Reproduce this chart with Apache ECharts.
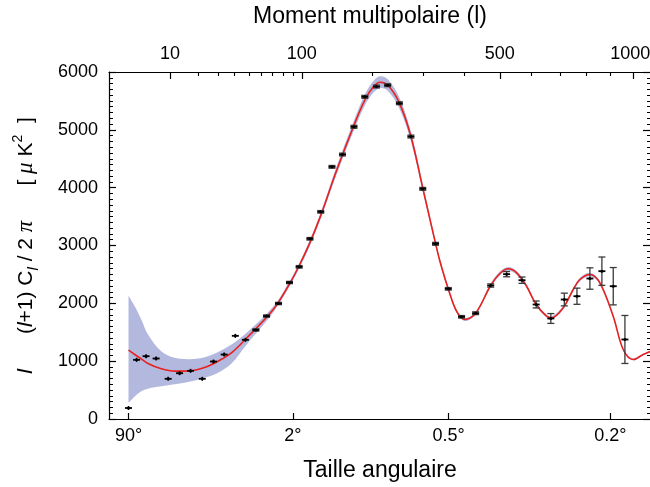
<!DOCTYPE html>
<html><head><meta charset="utf-8">
<script src="https://cdn.jsdelivr.net/npm/echarts@6/dist/echarts.min.js"></script>
<style>html,body{margin:0;padding:0;background:#fff}#c{width:650px;height:487px}</style>
</head><body><div id="c"></div>
<script>
// ---- data ----
const pointL = [2, 3, 4.5, 6.5, 9.5, 13, 17, 22, 27.5, 33.5, 40.5, 47.5, 55.5, 64.5, 75.5, 86.5, 97, 109.5, 123, 138, 153, 170.5, 188, 208, 228.5, 251, 274.5, 300, 329, 359.5, 393, 430.5, 473, 520.5, 569, 616, 667, 716, 764, 815, 864, 912, 963];
const pointV = [190, 1023, 1086, 1046, 695, 792, 833, 695, 994, 1115, 1438, 1369, 1540, 1780, 1997, 2360, 2631, 3116, 3582, 4360, 4573, 5052, 5571, 5749, 5772, 5460, 4884, 3980, 3029, 2251, 1767, 1829, 2308, 2504, 2400, 1980, 1738, 2066, 2123, 2429, 2556, 2296, 1375];
const pointErr = [0, 0, 0, 0, 0, 0, 0, 0, 0, 0, 0, 0, 20, 20, 20, 20, 22, 22, 22, 24, 24, 25, 25, 25, 25, 25, 25, 25, 25, 22, 22, 24, 28, 45, 55, 60, 85, 110, 140, 185, 245, 323, 415];

const curveL = [2, 2.75, 3.7, 4.85, 7.7, 11.4, 16, 20, 24.7, 30, 38, 47.4, 70.5, 86.3, 97, 109.5, 123.3, 144.6, 170.5, 188.3, 202.4, 214.3, 228.5, 250.8, 274.6, 300.4, 329.2, 339.3, 359.4, 380.4, 401.8, 430.6, 472.8, 500, 525.4, 551.8, 584, 616, 652, 670, 712, 749.6, 775.5, 815, 855.6, 911.8, 955.4, 1000, 1046, 1083];
const curveV = [1190, 1115, 1040, 960, 868, 827, 827, 856, 913, 999, 1145, 1375, 1893, 2330, 2650, 3050, 3530, 4300, 5080, 5520, 5740, 5823, 5775, 5470, 4884, 3980, 3029, 2729, 2251, 1860, 1720, 1829, 2308, 2516, 2597, 2528, 2296, 1980, 1777, 1750, 1923, 2239, 2412, 2498, 2355, 1777, 1202, 1029, 1115, 1172];
const bandHi = [2135, 1950, 1720, 1460, 1172, 1058, 1035, 1045, 1086, 1160, 1290, 1470, 1945, 2375, 2695, 3099, 3583, 4370, 5163, 5614, 5840, 5925, 5875, 5565, 4965, 4045, 3075, 2770, 2285, 1888, 1745, 1855, 2340, 2550, 2630, 2560, 2325, 2005, 1800, 1772, 1948, 2267, 2442, 2528, 2383, 1799, 1218, 1043, 1130, 1188];
const bandLo = [280, 390, 481, 525, 565, 600, 640, 680, 730, 800, 960, 1260, 1841, 2285, 2605, 3001, 3477, 4230, 4997, 5426, 5640, 5721, 5675, 5375, 4803, 3915, 2983, 2688, 2217, 1832, 1695, 1803, 2276, 2482, 2564, 2496, 2267, 1955, 1754, 1728, 1898, 2211, 2382, 2468, 2327, 1755, 1186, 1015, 1100, 1156];

const topMajorL = [10, 100, 500, 1000];
const topMinorL = [20, 30, 40, 50, 60, 70, 80, 90, 200, 300, 400, 600, 700, 800, 900];
const bottomAngles = [90, 2, 0.5, 0.2];
const xMinL = 0.5, xMaxL = 1083;
const yMin = 0, yMax = 6000, yStep = 1000;

// ---- scale: x position proportional to l^0.4 ----
const P = 0.4;
const toU = l => Math.pow(l, P);
const fromU = u => Math.pow(u, 1 / P);

const FONT = 'Liberation Sans, Arial, Helvetica, sans-serif';
const black = '#000';
const SMOOTH = 0.35;

// bezier smoothing of screen points (same rule as ECharts line smoothing)
function smoothSegs(pts, s) {
  const n = pts.length, cpL = [], cpR = [];
  for (let i = 0; i < n; i++) {
    const p = pts[i];
    if (i === 0 || i === n - 1) { cpL[i] = p; cpR[i] = p; continue; }
    const a = pts[i - 1], b = pts[i + 1];
    const vx = (b[0] - a[0]) * s, vy = (b[1] - a[1]) * s;
    const d0 = Math.hypot(p[0] - a[0], p[1] - a[1]), d1 = Math.hypot(b[0] - p[0], b[1] - p[1]);
    const r = d0 / (d0 + d1 || 1);
    cpL[i] = [p[0] - vx * r, p[1] - vy * r];
    cpR[i] = [p[0] + vx * (1 - r), p[1] + vy * (1 - r)];
  }
  let d = '';
  for (let i = 0; i < n - 1; i++) {
    d += ' C' + cpR[i][0] + ',' + cpR[i][1] + ' ' + cpL[i + 1][0] + ',' + cpL[i + 1][1] + ' ' + pts[i + 1][0] + ',' + pts[i + 1][1];
  }
  return d;
}

const chart = echarts.init(document.getElementById('c'), null, {renderer: 'canvas'});

const xBase = {type: 'value', min: toU(xMinL), max: toU(xMaxL), splitLine: {show: false}, minorSplitLine: {show: false}};

const option = {
  animation: false,
  backgroundColor: '#fff',
  grid: {left: 109, top: 72, right: -1, bottom: 68, containLabel: false, outerBoundsMode: 'none'},
  xAxis: [
    Object.assign({}, xBase, {
      position: 'bottom',
      axisLine: {show: true, onZero: false, lineStyle: {color: black, width: 1.2}},
      axisTick: {show: true, inside: true, length: 6, lineStyle: {color: black, width: 1.2},
        customValues: bottomAngles.map(a => toU(180 / a))},
      axisLabel: {show: true, color: black, fontSize: 18, fontFamily: FONT, margin: 8,
        customValues: bottomAngles.map(a => toU(180 / a)),
        formatter: v => {
          const ang = 180 / fromU(v);
          let best = bottomAngles[0];
          bottomAngles.forEach(a => { if (Math.abs(Math.log(a / ang)) < Math.abs(Math.log(best / ang))) best = a; });
          return best + '°';
        }},
      name: 'Taille angulaire', nameLocation: 'middle', nameGap: 40,
      nameTextStyle: {color: black, fontSize: 23, fontFamily: FONT}
    }),
    Object.assign({}, xBase, {
      position: 'top',
      axisLine: {show: true, onZero: false, lineStyle: {color: black, width: 1.2}},
      axisTick: {show: true, inside: true, length: 7, lineStyle: {color: black, width: 1.2},
        customValues: topMajorL.map(toU)},
      axisLabel: {show: true, color: black, fontSize: 18, fontFamily: FONT, margin: 9,
        customValues: topMajorL.map(toU),
        formatter: v => {
          const l = Math.round(fromU(v));
          return l === topMajorL[topMajorL.length - 1] ? '{last|' + l + '}' : String(l);
        },
        rich: {last: {color: black, fontSize: 18, fontFamily: FONT, padding: [0, 6, 0, 0]}}},
      name: 'Moment multipolaire (l)', nameLocation: 'middle', nameGap: 44,
      nameTextStyle: {color: black, fontSize: 23, fontFamily: FONT, padding: [0, 20, 0, 0]}
    }),
    Object.assign({}, xBase, {
      position: 'top',
      axisLine: {show: false, onZero: false},
      axisTick: {show: true, inside: true, length: 4, lineStyle: {color: black, width: 1.1},
        customValues: topMinorL.map(toU)},
      axisLabel: {show: false}
    })
  ],
  yAxis: [
    {
      type: 'value', position: 'left', min: yMin, max: yMax, interval: yStep,
      axisLine: {show: true, onZero: false, lineStyle: {color: black, width: 1.2}},
      axisTick: {show: true, inside: true, length: 7, lineStyle: {color: black, width: 1.2}},
      minorTick: {show: true, splitNumber: 10, length: 4, lineStyle: {color: black, width: 1}},
      splitLine: {show: false}, minorSplitLine: {show: false},
      axisLabel: {color: black, fontSize: 18, fontFamily: FONT, margin: 11, formatter: v => String(v)},
      name: '{i|l}{n|      (}{i|l}{n|+1) C}{sub|l}{n| / 2 }{g|π}{n|      [ }{g|μ}{n| K}{sup|2}{n|  ]}',
      nameLocation: 'middle', nameRotate: 90, nameGap: 68,
      nameTextStyle: {
        color: black, fontSize: 21, fontFamily: FONT,
        rich: {
          n: {fontSize: 21, fontFamily: FONT, color: black, lineHeight: 30},
          i: {fontSize: 21, fontFamily: FONT, fontStyle: 'italic', color: black, lineHeight: 30},
          sub: {fontSize: 15, fontFamily: FONT, fontStyle: 'italic', color: black, lineHeight: 15, verticalAlign: 'bottom'},
          sup: {fontSize: 14, fontFamily: FONT, color: black, lineHeight: 14, verticalAlign: 'top'},
          g: {fontSize: 23, fontFamily: 'Liberation Serif, DejaVu Serif, serif', fontStyle: 'italic', color: black, lineHeight: 30}
        }
      }
    },
    {
      type: 'value', position: 'right', min: yMin, max: yMax, interval: yStep,
      axisLine: {show: true, onZero: false, lineStyle: {color: black, width: 1.2}},
      axisTick: {show: true, inside: true, length: 8, lineStyle: {color: black, width: 1.2}},
      minorTick: {show: true, splitNumber: 10, length: 4, lineStyle: {color: black, width: 1}},
      splitLine: {show: false}, minorSplitLine: {show: false},
      axisLabel: {show: false}
    }
  ],
  series: [
    {
      type: 'custom', name: 'band', xAxisIndex: 0, yAxisIndex: 0, z: 1, silent: true,
      data: [[toU(100), 3000]],
      encode: {x: 0, y: 1},
      renderItem: function (params, api) {
        const up = curveL.map((l, i) => api.coord([toU(l), bandHi[i]]));
        const lo = curveL.map((l, i) => api.coord([toU(l), bandLo[i]])).reverse();
        const d = 'M' + up[0][0] + ',' + up[0][1] + smoothSegs(up, SMOOTH) +
          ' L' + lo[0][0] + ',' + lo[0][1] + smoothSegs(lo, SMOOTH) + ' Z';
        return {type: 'path', shape: {pathData: d}, style: {fill: '#b3b8de', stroke: null}};
      }
    },
    {
      type: 'line', name: 'theory', xAxisIndex: 0, yAxisIndex: 0, z: 3,
      data: curveL.map((l, i) => [toU(l), curveV[i]]),
      smooth: SMOOTH, symbol: 'none', silent: true,
      lineStyle: {color: '#e8201e', width: 1.6}
    },
    {
      type: 'custom', name: 'data', xAxisIndex: 0, yAxisIndex: 0, z: 4,
      data: pointL.map((l, i) => [toU(l), pointV[i], pointErr[i]]),
      encode: {x: 0, y: 1},
      renderItem: function (params, api) {
        const u = api.value(0), v = api.value(1), e = api.value(2);
        const c = api.coord([u, v]);
        const children = [];
        if (e > 0) {
          const t = api.coord([u, v + e]);
          const b = api.coord([u, v - e]);
          const st = {stroke: '#3a3a3a', lineWidth: 1.3};
          children.push({type: 'line', shape: {x1: c[0], y1: t[1], x2: c[0], y2: b[1]}, style: st});
          children.push({type: 'line', shape: {x1: c[0] - 3.5, y1: t[1], x2: c[0] + 3.5, y2: t[1]}, style: st});
          children.push({type: 'line', shape: {x1: c[0] - 3.5, y1: b[1], x2: c[0] + 3.5, y2: b[1]}, style: st});
        } else {
          children.push({type: 'line', shape: {x1: c[0], y1: c[1] - 2, x2: c[0], y2: c[1] + 2}, style: {stroke: black, lineWidth: 1.5}});
        }
        children.push({type: 'line', shape: {x1: c[0] - 3.5, y1: c[1], x2: c[0] + 3.5, y2: c[1]}, style: {stroke: black, lineWidth: 1.8}});
        children.push({type: 'circle', shape: {cx: c[0], cy: c[1], r: 1.5}, style: {fill: black}});
        return {type: 'group', children: children};
      }
    }
  ]
};
chart.setOption(option);
</script>
</body></html>
